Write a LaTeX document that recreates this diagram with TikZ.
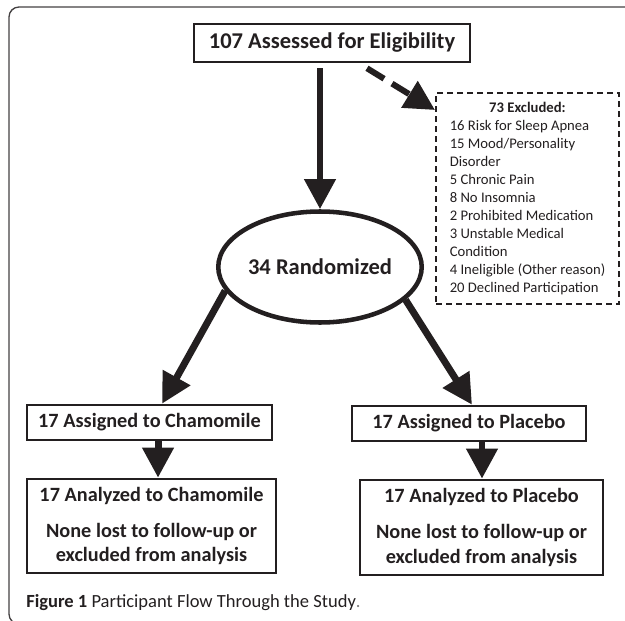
\documentclass[tikz,border=0pt]{standalone}
\usepackage{fontspec}
\setmainfont{Carlito}
\usetikzlibrary{arrows.meta,shapes.geometric}
\definecolor{ink}{HTML}{231F20}
\begin{document}
\begin{tikzpicture}[x=0.75pt,y=-0.75pt,
  every node/.style={text=ink},
  box/.style={draw=ink, line width=1.9pt, inner sep=0pt, align=center,
    font=\bfseries\fontsize{15.2}{18.5}\selectfont},
  bigarrow/.style={draw=ink, line width=5.2pt, -{Triangle[length=22.5pt,width=22.5pt]}},
  dasharrow/.style={draw=ink, line width=4.5pt, dash pattern=on 15pt off 7pt,
    -{Triangle[length=22.5pt,width=22.5pt]}},
  exbox/.style={draw=ink, line width=1.5pt, dash pattern=on 4.5pt off 3pt,
    inner sep=0pt, minimum width=137.25pt, minimum height=158.25pt, anchor=north west,
    font=\fontsize{11}{13.5}\selectfont},
  randell/.style={draw=ink, ellipse, line width=3.4pt, inner sep=0pt,
    minimum width=145.5pt, minimum height=83.25pt,
    font=\bfseries\fontsize{16.9}{20}\selectfont}
]
\useasboundingbox (0,0) rectangle (625,621);
\clip (0,0) rectangle (625,621);
\draw[line width=1pt, ink!85, rounded corners=7.5pt] (9,7) rectangle (720,624);

\node[box, minimum width=207pt, minimum height=28.5pt,
  font=\bfseries\fontsize{16.9}{20}\selectfont] (top) at (332,43) {107 Assessed for Eligibility};
\node[exbox] (excl) at (435,92) {\renewcommand{\arraystretch}{1}%
\begin{tabular}{@{}l@{}}
\multicolumn{1}{@{}c@{}}{\bfseries 73 Excluded:}\\
16 Risk for Sleep Apnea\\
15 Mood/Personality\\
Disorder\\
5 Chronic Pain\\
8 No Insomnia\\
2 Prohibited Medication\\
3 Unstable Medical\\
Condition\\
4 Ineligible (Other reason)\\
20 Declined Participation
\end{tabular}};
\node[randell] (rand) at (320,267) {34 Randomized};
\node[box, minimum width=183.75pt, minimum height=26.25pt] (chamA) at (149.5,422.5) {17 Assigned to Chamomile};
\node[box, minimum width=175.5pt, minimum height=26.25pt] (placA) at (469,423.5) {17 Assigned to Placebo};
\node[box, minimum width=186.75pt, minimum height=70.5pt] (chamN) at (151.5,526) {17 Analyzed to Chamomile\\[8.5pt]None lost to follow-up or\\excluded from analysis};
\node[box, minimum width=182.25pt, minimum height=71.25pt] (placN) at (481.5,527.5) {17 Analyzed to Placebo\\[8.5pt]None lost to follow-up or\\excluded from analysis};
\node[anchor=west, inner sep=0pt, font=\fontsize{13.9}{16}\selectfont] (cap) at (26,603)
  {{\bfseries Figure 1} Participant Flow Through the Study{\color{gray}.}};

\draw[bigarrow, shorten <=3.75pt] (top.south -| rand.north) -- (rand.north);
\draw[dasharrow] ([xshift=26.25pt,yshift=-3.75pt]top.south) -- ([yshift=-13.5pt]excl.north west);
\draw[bigarrow] (rand.194) -- ([xshift=9.4pt]chamA.north);
\draw[bigarrow] (rand.339) -- ([xshift=2.25pt]placA.north);
\draw[bigarrow] ([xshift=6.4pt]chamA.south) -- ([xshift=6.4pt]chamA.south |- chamN.north);
\draw[bigarrow] ([xshift=9.75pt]placA.south) -- ([xshift=9.75pt]placA.south |- placN.north);
\end{tikzpicture}
\end{document}
